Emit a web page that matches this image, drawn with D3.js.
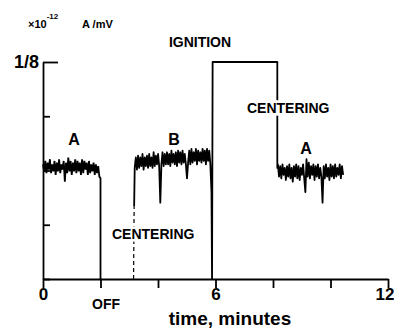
<!DOCTYPE html>
<html>
<head>
<meta charset="utf-8">
<script src="https://cdn.jsdelivr.net/npm/d3@7"></script>
<style>
  body { margin: 0; background: #fff; }
  svg { display: block; font-family: "Liberation Sans", Arial, sans-serif; font-weight: bold; }
</style>
</head>
<body>
<div id="chart"></div>
<script>
// current trace, units of 1e-15 A/mV (so 125 = 1/8 x 1e-12), time in minutes
const xTicks = [0, 2, 4, 6, 8, 10, 12];
const xTickLabels = { 0: "0", 6: "6", 12: "12" };
const yTicks = [0, 31.25, 62.5, 93.75, 125];
const yTickLabels = { 125: "1/8" };

// beam A, before the engine is switched off
const segA1Span = [0, 2.0];
const segA1 = [66, 62, 68, 61, 67, 63, 69, 61, 66, 62,
  68, 60, 67, 62, 69, 61, 66, 63, 68, 56,
  67, 61, 70, 62, 68, 60, 67, 62, 69, 61,
  68, 62, 67, 60, 69, 61, 68, 63, 67, 60,
  68, 61, 66, 62, 67, 60, 66, 61, 65, 59, 58];
const offDrop = [[2.0, 58], [2.0, 0]];

// centering ramp (dashed) then beam B
const rise = [[3.15, 0], [3.17, 42]];
const segBSpan = [3.19, 5.86];
const segB = [64, 70, 63, 71, 64, 70, 65, 72, 63, 70,
  65, 71, 64, 72, 65, 70, 64, 73, 65, 71,
  66, 72, 65, 44, 66, 73, 65, 72, 66, 73,
  66, 72, 65, 74, 67, 72, 66, 73, 65, 74,
  67, 73, 66, 74, 67, 72, 66, 58, 67, 74,
  66, 75, 67, 73, 68, 75, 66, 74, 68, 73,
  67, 75, 68, 74, 66, 75, 68, 74, 66, 50];

// ignition: off scale at 1/8
const ignition = [[5.88, 0], [5.9, 125], [8.15, 125], [8.15, 64]];

// back to beam A
const segA2Span = [8.17, 10.44];
const segA2 = [66, 59, 65, 58, 66, 60, 64, 57, 65, 59,
  66, 58, 64, 56, 65, 59, 66, 58, 65, 57,
  64, 60, 66, 58, 50, 69, 59, 67, 58, 65,
  60, 66, 57, 65, 59, 66, 58, 64, 59, 44,
  65, 58, 66, 59, 64, 57, 66, 59, 65, 58,
  66, 59, 64, 60, 66, 58, 65, 60];

const width = 394, height = 328;
const x = d3.scaleLinear().domain([0, 12]).range([43, 388]);
const y = d3.scaleLinear().domain([0, 125]).range([279, 62]);

const svg = d3.select("#chart").append("svg")
  .attr("width", width)
  .attr("height", height);

function sampled(span, vals) {
  let step = (span[1] - span[0]) / (vals.length - 1);
  return vals.map((v, i) => [span[0] + i * step, v]);
}

let line = d3.line().x(d => x(d[0])).y(d => y(d[1]));

// axes
let xAxis = svg.append("g")
  .attr("transform", `translate(0,${y(0)})`)
  .call(d3.axisBottom(x).tickValues(xTicks).tickSizeInner(9).tickSizeOuter(0)
    .tickFormat(d => xTickLabels[d] || ""));
xAxis.selectAll("text").attr("y", 9).attr("font-size", 17).attr("font-family", null).attr("fill", "#000");
// last label sits against the right edge
xAxis.selectAll(".tick").filter(d => d === 12).select("text")
  .attr("text-anchor", "end").attr("x", 394 - x(12));

let yAxis = svg.append("g")
  .attr("transform", `translate(${x(0)},0)`)
  .call(d3.axisLeft(y).tickValues(yTicks).tickSizeInner(-7).tickSizeOuter(0)
    .tickFormat(d => yTickLabels[d] || ""));
yAxis.selectAll("text").attr("x", -4).attr("font-size", 18).attr("font-family", null).attr("fill", "#000");
yAxis.selectAll(".tick").filter(d => d === 125).select("line").attr("x2", 15);

svg.selectAll(".domain, .tick line").attr("stroke", "#000").attr("stroke-width", 1.8);

// trace
let trace = [].concat(sampled(segA1Span, segA1), offDrop);
let traceB = [].concat([rise[1]], sampled(segBSpan, segB), ignition, sampled(segA2Span, segA2));

svg.append("path").attr("d", line(trace))
  .attr("fill", "none").attr("stroke", "#000").attr("stroke-width", 1.8);
svg.append("path").attr("d", line(rise))
  .attr("fill", "none").attr("stroke", "#000").attr("stroke-width", 1.2)
  .attr("stroke-dasharray", "4,3");
svg.append("path").attr("d", line(traceB))
  .attr("fill", "none").attr("stroke", "#000").attr("stroke-width", 1.8)
  .attr("stroke-linejoin", "round");

// labels
function label(tx, ty, txt, size, anchor, halo) {
  let t = svg.append("text")
    .attr("x", tx).attr("y", ty)
    .attr("font-size", size)
    .attr("text-anchor", anchor || "start")
    .text(txt);
  if (halo) t.attr("stroke", "#fff").attr("stroke-width", 5).attr("paint-order", "stroke");
  return t;
}

let unit = svg.append("text").attr("x", 28).attr("y", 28).attr("font-size", 11);
unit.append("tspan").text("×10");
unit.append("tspan").attr("dy", -9).attr("font-size", 8).text("-12");
label(82, 28, "A /mV", 11);

label(200, 47, "IGNITION", 14, "middle");
label(74, 145, "A", 16, "middle");
label(174, 145, "B", 16, "middle");
label(306, 154, "A", 16, "middle");
label(112, 239, "CENTERING", 14, "start", true);
label(247, 113, "CENTERING", 14, "start", true);
label(106, 309, "OFF", 14, "middle");
label(230, 325, "time, minutes", 19, "middle");
</script>
</body>
</html>
